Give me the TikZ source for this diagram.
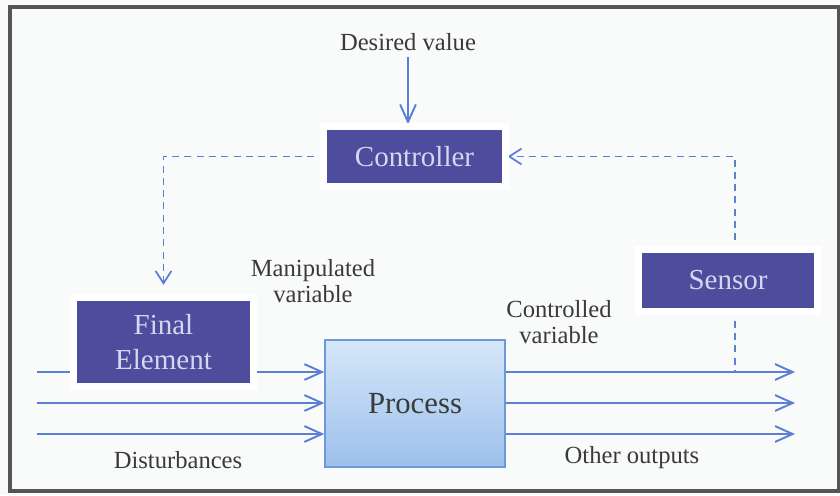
\documentclass[tikz,border=0pt]{standalone}
\usepackage{fontspec}
\setmainfont{Liberation Serif}
\usetikzlibrary{arrows.meta,shadows,backgrounds}
\definecolor{boxblue}{HTML}{4E4C9C}
\definecolor{boxtext}{HTML}{D6D6F0}
\definecolor{linkblue}{HTML}{5B7FD6}
\definecolor{proctop}{HTML}{D6E7F9}
\definecolor{procbot}{HTML}{9CC0EC}
\definecolor{procedge}{HTML}{6E98D6}
\definecolor{labelgray}{HTML}{3A3A3A}
\definecolor{paper}{HTML}{F9FAFA}
\definecolor{framegray}{HTML}{555558}
\begin{document}
\begin{tikzpicture}[x=0.02cm, y=-0.02cm,
	block/.style={fill=boxblue, text=boxtext, inner sep=0pt, align=center,
		font=\fontsize{16.5}{20}\selectfont,
		drop shadow={shadow xshift=0pt, shadow yshift=-2pt, opacity=0.12, shadow scale=1.06},
		preaction={draw=white, line width=8pt}},
	label/.style={text=labelgray, align=center, font=\fontsize{14}{15}\selectfont},
	flow/.style={linkblue, line width=1.1pt, -{Straight Barb[length=10pt,width=9pt]}},
	signal/.style={linkblue, line width=1pt, dash pattern=on 4pt off 3pt}]
	\useasboundingbox (0,0) rectangle (840,495);
	% blocks
	\node[block, minimum width=3.5cm, minimum height=1.06cm] (ctrl) at (414.5,156.5) {Controller};
	\node[block, minimum width=3.46cm, minimum height=1.64cm] (final) at (163.5,342) {Final\\Element};
	\node[block, minimum width=3.44cm, minimum height=1.1cm] (sensor) at (728,280.5) {Sensor};
	\node[draw=procedge, line width=0.8pt, top color=proctop, bottom color=procbot,
		minimum width=3.6cm, minimum height=2.54cm, text=labelgray,
		font=\fontsize{17.5}{20}\selectfont] (process) at (415,403.5) {Process};
	% labels
	\node[label] (desired) at (408,42) {Desired value};
	\node[label] (manip) at (313,281) {Manipulated\\variable};
	\node[label] (contr) at (559,322) {Controlled\\variable};
	\node[label] (dist) at (178,460) {Disturbances};
	\node[label] (other) at (632,458) {Other outputs};
	% line ends
	\coordinate (in1) at (37,372);
	\coordinate (in2) at (37,403);
	\coordinate (in3) at (37,434);
	\coordinate (out1) at (795,372);
	\coordinate (out2) at (795,403);
	\coordinate (out3) at (795,434);
	\coordinate (tap) at (735,372);
	\begin{scope}[on background layer]
		\fill[paper] (0,0) rectangle (840,495);
		\draw[framegray, line width=2.4pt] (10,7) rectangle (839,491);
		\draw[flow] (in1) -- (in1 -| process.west);
		\draw[flow] (in2) -- (in2 -| process.west);
		\draw[flow] (in3) -- (in3 -| process.west);
		\draw[flow] (process.east |- out1) -- (out1);
		\draw[flow] (process.east |- out2) -- (out2);
		\draw[flow] (process.east |- out3) -- (out3);
		\draw[flow, shorten >=3pt] (desired.south) -- (desired.south |- ctrl.north);
		\draw[signal, -{Straight Barb[length=7pt,width=9pt]}, shorten >=9pt] (ctrl.west) -| (final.north);
		\draw[signal, -{Straight Barb[length=7pt,width=9pt]}, shorten >=3pt] (sensor.north -| tap) |- (ctrl.east);
		\draw[signal] (sensor.south -| tap) -- (tap);
	\end{scope}
\end{tikzpicture}
\end{document}
